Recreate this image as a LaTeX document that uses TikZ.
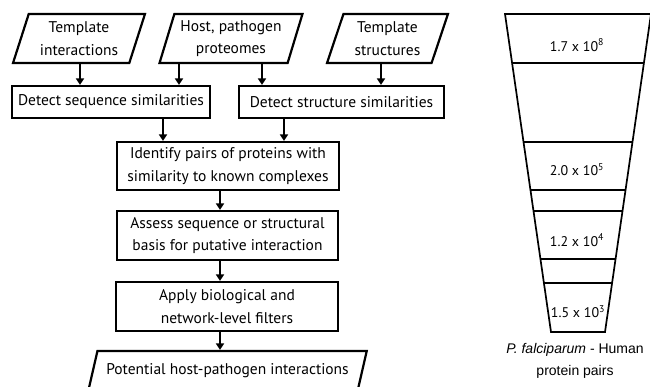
\documentclass[tikz,border=0pt]{standalone}
\usepackage{fontspec}
\setmainfont{PT Sans}
\newfontfamily\capfont{Liberation Sans}
\usetikzlibrary{arrows.meta,calc,shapes.geometric}
\newcommand{\funnelrung}[1]{%
  \pgfmathsetmacro{\fT}{(#1-14)/318}%
  \draw[funnel] ($(ftl)!\fT!(fbl)$) -- ($(ftr)!\fT!(fbr)$);%
}

\begin{document}
\begin{tikzpicture}[x=1pt,y=1pt,
  box/.style={draw,line width=2.2pt,minimum height=49,inner sep=0pt,align=center,font=\fontsize{15.5}{22.5}\selectfont},
  inbox/.style={box,shape=trapezium,trapezium left angle=70,trapezium right angle=110,trapezium stretches=true},
  arr/.style={-{Triangle[length=6.5pt,width=8pt]},line width=2pt},
  funnel/.style={line width=1.7pt},
  count/.style={font=\fontsize{14}{16}\selectfont}]
  \useasboundingbox (0,0) rectangle (650,-386);
  \clip (0,0) rectangle (650,-386);
  \node[inbox,minimum width=132] (tint) at (79,-38.5) {Template\\interactions};
  \node[inbox,minimum width=143] (prot) at (231,-38.5) {Host, pathogen\\proteomes};
  \node[inbox,minimum width=121] (tstr) at (387.5,-38.5) {Template\\structures};
  \node[box,minimum width=198,minimum height=32] (seqsim) at (111,-102) {Detect sequence similarities};
  \node[box,minimum width=205,minimum height=32] (strsim) at (341.5,-102) {Detect structure similarities};
  \node[box,minimum width=222,minimum height=48] (pairs) at (228,-166) {Identify pairs of proteins with\\similarity to known complexes};
  \node[box,minimum width=221] (basis) at (227.5,-235.5) {Assess sequence or structural\\basis for putative interaction};
  \node[box,minimum width=222] (filt) at (227,-306.5) {Apply biological and\\network-level filters};
  \node[inbox,trapezium left angle=59,trapezium right angle=121,minimum width=279,minimum height=40] (hits) at (227.5,-371) {Potential host-pathogen interactions};
  \draw[arr] (tint.south -| 80,0) -- (seqsim.north -| 80,0);
  \draw[arr] (prot.south -| 179,0) -- (seqsim.north -| 179,0);
  \draw[arr] (prot.south -| 262,0) -- (strsim.north -| 262,0);
  \draw[arr] (tstr.south -| 381,0) -- (strsim.north -| 381,0);
  \draw[arr] (seqsim.south -| 163,0) -- (pairs.north -| 163,0);
  \draw[arr] (strsim.south -| 284,0) -- (pairs.north -| 284,0);
  \draw[arr] (pairs.south -| 220,0) -- (basis.north -| 220,0);
  \draw[arr] (basis.south -| 220,0) -- (filt.north -| 220,0);
  \draw[arr] (filt.south -| 220,0) -- (hits.north -| 220,0);
  \coordinate (ftl) at (505,-14);
  \coordinate (ftr) at (651,-14);
  \coordinate (fbl) at (551,-332);
  \coordinate (fbr) at (605,-332);
  \draw[funnel] (ftl) -- (ftr) -- (fbr) -- (fbl) -- cycle;
  \foreach \fY in {63,142,190,211,259,283} {\funnelrung{\fY}}
  \node[count] (n8) at (577,-45) {1.7 x 10\textsuperscript{8}};
  \node[count] (n5) at (577,-170) {2.0 x 10\textsuperscript{5}};
  \node[count] (n4) at (577,-240) {1.2 x 10\textsuperscript{4}};
  \node[count] (n3) at (578,-312) {1.5 x 10\textsuperscript{3}};
  \node[font=\capfont\fontsize{14}{22}\selectfont,align=center] (cap) at (575,-361) {\textit{P. falciparum} - Human\\protein pairs};
\end{tikzpicture}
\end{document}
